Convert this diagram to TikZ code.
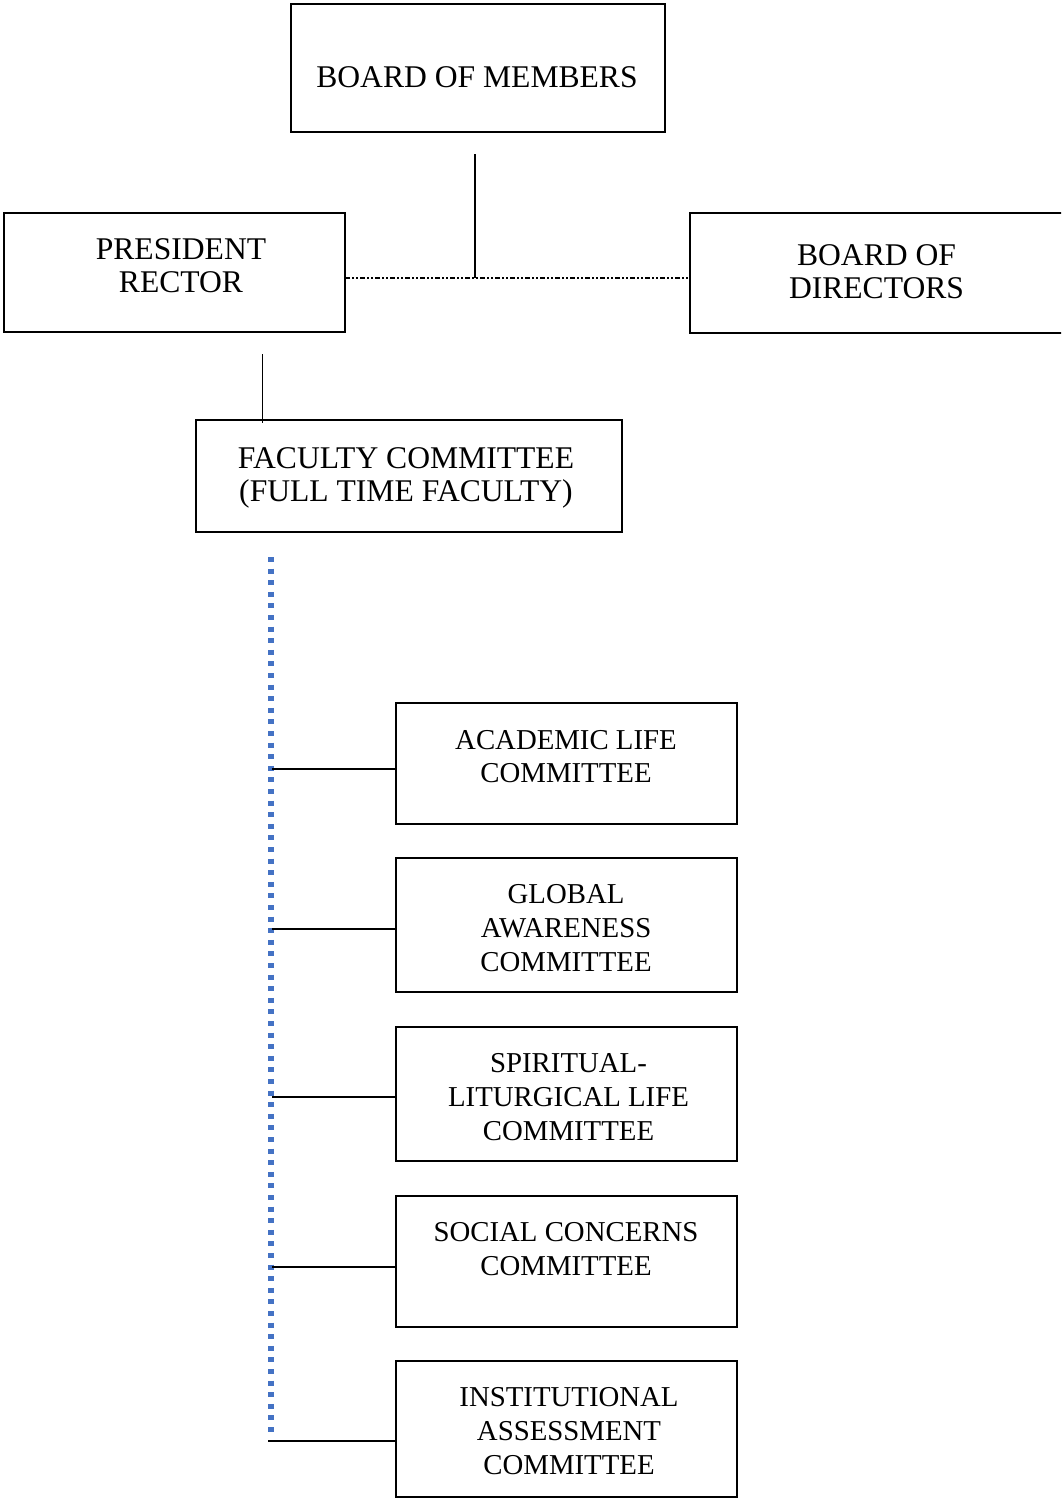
\documentclass[tikz,border=0pt]{standalone}
\usepackage{fontspec}
\setmainfont{Liberation Serif}
\begin{document}
\begin{tikzpicture}[x=1pt,y=-1pt,
  box/.style={draw,line width=1.7pt,inner sep=0pt,outer sep=0pt},
  lab/.style={align=center,inner sep=0pt},
  big/.style={font=\fontsize{31.6}{33}\selectfont},
  small/.style={font=\fontsize{28.8}{33.8}\selectfont},
  conn/.style={line width=1.9pt},
  dashdotline/.style={line width=2pt,dash pattern=on 5pt off 2pt on 2pt off 2pt on 2pt off 2pt},
  spine/.style={line width=5.5pt,color=spineblue,dash pattern=on 5pt off 6.6pt}]
\definecolor{spineblue}{RGB}{68,114,196}
\clip (0,0) rectangle (1061,1499);
\fill[white] (0,0) rectangle (1061,1499);

% top level
\node[box,minimum width=374pt,minimum height=128pt] (mem) at (478,68) {};
\node[lab,big] (memt) at (477,77.5) {BOARD OF MEMBERS};

\node[box,minimum width=341pt,minimum height=119pt] (pres) at (174.5,272.5) {};
\node[lab,big] (prest) at (181,265.5) {PRESIDENT\\RECTOR};

\node[box,minimum width=400pt,minimum height=120pt] (dir) at (890,273) {};
\node[lab,big] (dirt) at (876.5,272) {BOARD OF\\DIRECTORS};

\node[box,minimum width=426pt,minimum height=112pt] (fac) at (409,476) {};
\node[lab,big] (fact) at (406,477.5) {FACULTY COMMITTEE\\(FULL TIME FACULTY)};

% committees
\node[box,minimum width=341pt,minimum height=121pt] (acad) at (566.5,763.5) {};
\node[lab,small] (acadt) at (566,756.5) {ACADEMIC LIFE\\COMMITTEE};

\node[box,minimum width=341pt,minimum height=134pt] (glob) at (566.5,925) {};
\node[lab,small] (globt) at (566,928) {GLOBAL\\AWARENESS\\COMMITTEE};

\node[box,minimum width=341pt,minimum height=134pt] (spir) at (566.5,1094) {};
\node[lab,small] (spirt) at (568.5,1097) {SPIRITUAL-\\LITURGICAL LIFE\\COMMITTEE};

\node[box,minimum width=341pt,minimum height=131pt] (soc) at (566.5,1261.5) {};
\node[lab,small] (soct) at (566,1249) {SOCIAL CONCERNS\\COMMITTEE};

\node[box,minimum width=341pt,minimum height=136pt] (inst) at (566.5,1429) {};
\node[lab,small] (instt) at (569,1431) {INSTITUTIONAL\\ASSESSMENT\\COMMITTEE};

% connectors
\coordinate (mtop) at (475,154);
\coordinate (jn) at (475,278);
\draw[conn] (mtop) -- (jn);
\draw[dashdotline] (pres.east |- jn) -- (dir.west |- jn);

\coordinate (ptop) at (262.5,354);
\coordinate (pbot) at (262.5,423);
\draw[conn] (ptop) -- (pbot);

\coordinate (st) at (271,557);
\coordinate (sb) at (271,1437);
\draw[spine] (st) -- (sb);

\coordinate (b1) at (272,769);
\coordinate (b2) at (272,929);
\coordinate (b3) at (272,1097);
\coordinate (b4) at (272,1267);
\coordinate (b5) at (268,1441);
\draw[conn] (b1) -- (acad.west |- b1);
\draw[conn] (b2) -- (glob.west |- b2);
\draw[conn] (b3) -- (spir.west |- b3);
\draw[conn] (b4) -- (soc.west |- b4);
\draw[conn] (b5) -- (inst.west |- b5);
\end{tikzpicture}
\end{document}
